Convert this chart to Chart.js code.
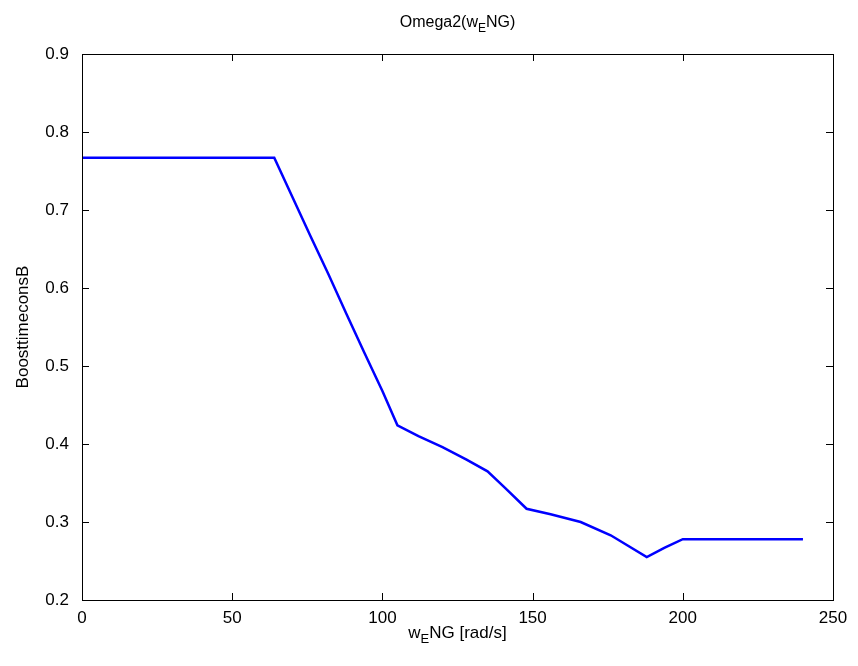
<!DOCTYPE html>
<html>
<head>
<meta charset="utf-8">
<script src="https://cdn.jsdelivr.net/npm/chart.js@4"></script>
<style>
  html, body { margin: 0; padding: 0; background: #fff; }
  #wrap { width: 858px; height: 666px; }
</style>
</head>
<body>
<div id="wrap"><canvas id="line-chart" width="858" height="666"></canvas></div>
<script>
// engine speed [rad/s] and boost time constant B
const speed = [0, 64, 70, 76, 82, 88, 94, 100, 105, 112, 120, 128, 135, 141, 148, 156, 166, 176, 188, 194, 200, 240];
const boostB = [0.767, 0.767, 0.717, 0.667, 0.618, 0.567, 0.517, 0.468, 0.424, 0.41, 0.396, 0.38, 0.365, 0.343, 0.317, 0.31, 0.3, 0.283, 0.255, 0.267, 0.278, 0.278];
const xTicks = [0, 50, 100, 150, 200, 250];
const yTicks = [0.2, 0.3, 0.4, 0.5, 0.6, 0.7, 0.8, 0.9];

const FONT = '"Liberation Sans", Arial, sans-serif';

// draws text with a subscript part: parts = [[text, isSub], ...]
function drawSubText(ctx, parts, cx, y, size) {
  const subSize = Math.round(size * 0.75);
  let total = 0;
  parts.forEach(p => {
    ctx.font = (p[1] ? subSize : size) + 'px ' + FONT;
    total += ctx.measureText(p[0]).width;
  });
  let x = cx - total / 2;
  ctx.textAlign = 'left';
  ctx.textBaseline = 'alphabetic';
  parts.forEach(p => {
    ctx.font = (p[1] ? subSize : size) + 'px ' + FONT;
    ctx.fillText(p[0], x, p[1] ? y + size * 0.3 : y);
    x += ctx.measureText(p[0]).width;
  });
}

const matlabFrame = {
  id: 'matlabFrame',
  afterDraw(chart) {
    const ctx = chart.ctx;
    const a = chart.chartArea;
    const xs = chart.scales.x, ys = chart.scales.y;
    const tick = 7;
    ctx.save();
    ctx.strokeStyle = '#000';
    ctx.lineWidth = 1;
    ctx.strokeRect(Math.round(a.left) + 0.5, Math.round(a.top) + 0.5,
      Math.round(a.right - a.left), Math.round(a.bottom - a.top));
    ctx.beginPath();
    xTicks.forEach(v => {
      const px = Math.round(xs.getPixelForValue(v)) + 0.5;
      ctx.moveTo(px, a.bottom); ctx.lineTo(px, a.bottom - tick);
      ctx.moveTo(px, a.top); ctx.lineTo(px, a.top + tick);
    });
    yTicks.forEach(v => {
      const py = Math.round(ys.getPixelForValue(v)) + 0.5;
      ctx.moveTo(a.left, py); ctx.lineTo(a.left + tick, py);
      ctx.moveTo(a.right, py); ctx.lineTo(a.right - tick, py);
    });
    ctx.stroke();

    ctx.fillStyle = '#000';
    const cx = (a.left + a.right) / 2;
    drawSubText(ctx, [['Omega2(w', false], ['E', true], ['NG)', false]], cx, 27, 16);
    drawSubText(ctx, [['w', false], ['E', true], ['NG [rad/s]', false]], cx, 638, 17);

    ctx.translate(28, (a.top + a.bottom) / 2);
    ctx.rotate(-Math.PI / 2);
    ctx.font = '17px ' + FONT;
    ctx.textAlign = 'center';
    ctx.fillText('BoosttimeconsB', 0, 0);
    ctx.restore();
  }
};

new Chart(document.getElementById('line-chart'), {
  type: 'line',
  data: {
    datasets: [{
      data: speed.map((s, i) => ({ x: s, y: boostB[i] })),
      borderColor: '#0000ff',
      borderWidth: 2.5,
      pointRadius: 0,
      tension: 0,
      fill: false
    }]
  },
  options: {
    responsive: false,
    animation: false,
    layout: { padding: { top: 54, right: 25, bottom: 0, left: 0 } },
    plugins: { legend: { display: false }, tooltip: { enabled: false } },
    scales: {
      x: {
        type: 'linear', min: 0, max: 250,
        afterBuildTicks: s => { s.ticks = xTicks.map(v => ({ value: v })); },
        afterFit: s => { s.height = 66; },
        grid: { display: false }, border: { display: false },
        ticks: { color: '#000', font: { family: FONT, size: 17 }, padding: 0, maxRotation: 0 }
      },
      y: {
        min: 0.2, max: 0.9,
        afterBuildTicks: s => { s.ticks = yTicks.map(v => ({ value: v })); },
        afterFit: s => { s.width = 82; },
        grid: { display: false }, border: { display: false },
        ticks: { color: '#000', font: { family: FONT, size: 17 }, padding: 5,
          callback: v => v.toFixed(1) }
      }
    }
  },
  plugins: [matlabFrame]
});
</script>
</body>
</html>
